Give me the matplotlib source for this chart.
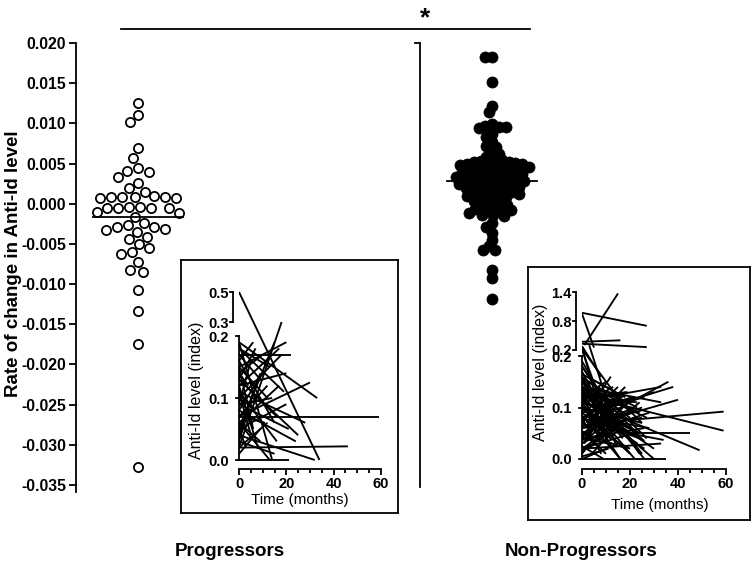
import numpy as np
import matplotlib
matplotlib.use("Agg")
import matplotlib.pyplot as plt
from matplotlib.transforms import blended_transform_factory
from matplotlib.ticker import NullLocator

plt.rcParams['font.family'] = ['Liberation Sans', 'DejaVu Sans']

# ---------------- data ----------------
group_labels = ["Progressors", "Non-Progressors"]

progressors = [0.0125, 0.0111, 0.0102, 0.0069, 0.0057, 0.0044, 0.0041, 0.0040,
               0.0033, 0.0026, 0.0019, 0.0015, 0.0009,
               0.0008, 0.0008, 0.0007, 0.0008, 0.0008, 0.0007,
               -0.0005, -0.0005, -0.0004, -0.0005, -0.0005, -0.0004,
               -0.0010, -0.0011, -0.0016,
               -0.0024, -0.0026, -0.0029, -0.0029, -0.0031, -0.0033,
               -0.0035, -0.0041, -0.0044,
               -0.0050, -0.0055, -0.0060, -0.0063,
               -0.0073, -0.0082, -0.0085,
               -0.0107, -0.0134, -0.0175, -0.0328]

non_progressors = [0.0182, 0.0182, 0.0151, 0.0122, 0.0114, 0.0099, 0.0095, 0.0096,
                   0.0097, 0.0094, 0.0087, 0.0083, 0.0077, 0.0072, 0.0070, 0.0065,
                   0.0062, 0.0058, 0.0055, 0.0054, 0.0053, 0.0052, 0.0052, 0.0051, 0.0050, 0.0050,
                   0.0049, 0.0048, 0.0047, 0.0046, 0.0045, 0.0044, 0.0043, 0.0042, 0.0041, 0.0040,
                   0.0040, 0.0039, 0.0038, 0.0037, 0.0036, 0.0035, 0.0034, 0.0033, 0.0033, 0.0032,
                   0.0031, 0.0030, 0.0029, 0.0028, 0.0028, 0.0027, 0.0026, 0.0025, 0.0024, 0.0024,
                   0.0023, 0.0022, 0.0021, 0.0020, 0.0019, 0.0018, 0.0017, 0.0016, 0.0015, 0.0014,
                   0.0013, 0.0012, 0.0011, 0.0010, 0.0009, 0.0008, 0.0006, 0.0005, 0.0003, 0.0002,
                   0.0000, -0.0001, -0.0003, -0.0005, -0.0006, -0.0008, -0.0008, -0.0009, -0.0011,
                   -0.0014, -0.0014, -0.0015, -0.0024, -0.0029, -0.0036, -0.0045, -0.0053,
                   -0.0057, -0.0057, -0.0082, -0.0092, -0.0118]

prog_median = -0.0016
nonprog_median = 0.0028
main_yticks = [-0.035, -0.030, -0.025, -0.020, -0.015, -0.010, -0.005,
               0.000, 0.005, 0.010, 0.015, 0.020]

# inset 1 (progressors): start time, start level, end time, end level
prog_t0 = [0, 0, 0, 0, 0, 0, 0, 0, 0, 0, 0, 0, 0, 0, 0, 0, 0, 0, 0, 0, 0, 0, 0,
           0, 0, 0, 0, 0, 0, 0, 0, 0, 0, 0, 0, 0, 0, 0, 0, 0, 0, 0, 1, 2, 0,
           0, 0, 0, 0, 0, 0]
prog_y0 = [0.50, 0.02, 0.19, 0.17, 0.07, 0.02, 0.04, 0.07, 0.00, 0.19, 0.12, 0.16,
           0.05, 0.10, 0.13, 0.09, 0.03, 0.08, 0.15, 0.06, 0.11, 0.18, 0.14, 0.02,
           0.09, 0.05, 0.12, 0.16, 0.04, 0.10, 0.07, 0.13, 0.01, 0.08, 0.17, 0.06,
           0.11, 0.03, 0.15, 0.09, 0.05, 0.12, 0.07, 0.10, 0.14,
           0.13, 0.06, 0.18, 0.04, 0.11, 0.15]
prog_t1 = [34, 18, 33, 22, 59, 46, 32, 30, 21, 14, 17, 6, 15, 18, 25, 21, 15, 10,
           12, 9, 7, 19, 4, 12, 5, 20, 8, 15, 6, 3, 12, 16, 9, 24, 9, 13, 28, 4, 6,
           14, 3, 20, 11, 16, 10,
           7, 17, 13, 9, 5, 20]
prog_y1 = [0.00, 0.30, 0.10, 0.17, 0.07, 0.022, 0.00, 0.125, 0.00, 0.00, 0.18, 0.19,
           0.19, 0.17, 0.04, 0.05, 0.01, 0.14, 0.10, 0.03, 0.08, 0.11, 0.12, 0.06,
           0.16, 0.09, 0.02, 0.06, 0.11, 0.09, 0.12, 0.07, 0.05, 0.03, 0.13, 0.00,
           0.06, 0.08, 0.05, 0.10, 0.02, 0.14, 0.06, 0.03, 0.17,
           0.18, 0.12, 0.15, 0.14, 0.04, 0.19]

# inset 2 (non-progressors)
np_t0 = [0, 1, 0, 0, 0, 0, 12, 10, 14, 18, 12, 14, 16, 8, 0, 0, 0, 0, 0, 5,
         0, 0, 0, 0, 0, 0, 0, 0, 0, 0, 0, 0, 0, 0, 0, 0, 0, 0,
         0, 0, 0, 0, 0, 0, 0, 0, 0, 0, 0, 0, 0, 0, 0, 0, 0,
         1, 2, 1, 3, 2, 1, 4, 2, 3, 1, 5, 2, 6, 4, 3, 1, 7, 5, 2, 6, 8, 4, 9, 3,
         0, 0, 0, 0, 0,
         0, 0, 0, 0, 0, 0, 0, 0, 0, 0, 0, 0, 0, 0, 0, 0, 0, 0, 0, 0,
         2, 3, 4, 5, 6, 7, 8, 10, 11, 12, 13, 14, 6, 9, 15, 0, 3, 0, 0, 0]
np_y0 = [0.97, 0.30, 0.37, 0.33, 0.25, 0.21, 0.09, 0.10, 0.08, 0.075, 0.11, 0.085,
         0.05, 0.06, 0.00, 0.12, 0.15, 0.16, 0.02, 0.08,
         0.17, 0.16, 0.15, 0.14, 0.13, 0.12, 0.11, 0.10, 0.09, 0.08, 0.07, 0.06,
         0.05, 0.04, 0.03, 0.02, 0.01, 0.00,
         0.165, 0.155, 0.145, 0.135, 0.125, 0.115, 0.105, 0.095, 0.085, 0.075,
         0.065, 0.055, 0.045, 0.035, 0.025, 0.015, 0.005,
         0.12, 0.09, 0.06, 0.14, 0.04, 0.10, 0.08, 0.13, 0.02, 0.15, 0.11, 0.07,
         0.05, 0.12, 0.09, 0.03, 0.10, 0.06, 0.16, 0.13, 0.07, 0.01, 0.09, 0.11,
         0.115, 0.135, 0.14, 0.18, 0.19,
         0.14, 0.12, 0.10, 0.08, 0.06, 0.04, 0.11, 0.13, 0.09, 0.07, 0.05, 0.03,
         0.15, 0.12, 0.10, 0.08, 0.06, 0.04, 0.02, 0.16,
         0.11, 0.07, 0.09, 0.13, 0.04, 0.12, 0.08, 0.10, 0.06, 0.13, 0.05, 0.10,
         0.09, 0.12, 0.07, 0.95, 0.30, 0.28, 0.22, 0.18]
np_t1 = [27, 15, 16, 27, 10, 14, 36, 38, 40, 59, 59, 49, 45, 34, 35, 30, 26, 25, 33, 28,
         8, 12, 20, 6, 18, 10, 22, 4, 16, 24, 9, 14, 19, 7, 12, 21, 5, 15,
         14, 23, 3, 11, 17, 8, 13, 20, 6, 15, 25, 10, 18, 13, 9, 17, 11,
         19, 12, 22, 9, 15, 7, 20, 24, 14, 11, 17, 8, 19, 13, 26, 10, 21, 16, 18,
         23, 25, 12, 14, 6,
         30, 26, 33, 20, 12,
         19, 23, 25, 18, 21, 26, 16, 14, 9, 20, 13, 17, 7, 5, 12, 8, 6, 11, 19, 21,
         24, 18, 22, 27, 16, 20, 23, 26, 24, 25, 22, 27, 30, 33, 28, 5, 12, 8, 18, 24]
np_y1 = [0.70, 1.37, 0.40, 0.26, 0.05, 0.03, 0.15, 0.14, 0.115, 0.092, 0.055, 0.017,
         0.05, 0.037, 0.00, 0.00, 0.00, 0.01, 0.03, 0.06,
         0.10, 0.02, 0.08, 0.12, 0.05, 0.15, 0.07, 0.13, 0.11, 0.04, 0.12, 0.10,
         0.02, 0.09, 0.06, 0.05, 0.04, 0.03,
         0.13, 0.10, 0.09, 0.08, 0.12, 0.03, 0.14, 0.06, 0.05, 0.14, 0.08, 0.01,
         0.09, 0.11, 0.00, 0.07, 0.02,
         0.13, 0.16, 0.10, 0.04, 0.12, 0.07, 0.01, 0.09, 0.08, 0.06, 0.04, 0.10,
         0.11, 0.09, 0.02, 0.13, 0.12, 0.00, 0.12, 0.05, 0.10, 0.05, 0.03, 0.14,
         0.02, 0.035, 0.11, 0.04, 0.09,
         0.06, 0.11, 0.07, 0.13, 0.09, 0.06, 0.00, 0.07, 0.06, 0.02, 0.08, 0.10,
         0.11, 0.08, 0.04, 0.01, 0.07, 0.03, 0.08, 0.09,
         0.05, 0.14, 0.12, 0.08, 0.06, 0.10, 0.03, 0.12, 0.11, 0.07, 0.00, 0.04,
         0.13, 0.14, 0.09, 0.25, 0.09, 0.16, 0.10, 0.01]

# ---------------- figure ----------------
W, H, DPI = 755, 563, 100
fig = plt.figure(figsize=(W / DPI, H / DPI), dpi=DPI)
fig.patch.set_facecolor('white')


def add_px_axes(l, t, r, b):
    return fig.add_axes([l / W, 1 - b / H, (r - l) / W, (b - t) / H])


# main axes
ax = add_px_axes(76, 43, 750, 492)
Y_LO, Y_HI = -0.03587, 0.020
PX_PER_X = 354.0
X_LO, X_HI = -62 / PX_PER_X, 612 / PX_PER_X
ax.set_xlim(X_LO, X_HI)
ax.set_ylim(Y_LO, Y_HI)
PX_PER_Y = 449.0 / (Y_HI - Y_LO)
ax.patch.set_alpha(0)
for s in ['top', 'right', 'bottom']:
    ax.spines[s].set_visible(False)
ax.spines['left'].set_linewidth(1.3)
ax.set_xticks([])
ax.set_yticks(main_yticks)
ax.set_yticklabels([f"{v:.3f}" for v in main_yticks], fontweight='bold')
ax.tick_params(axis='y', direction='out', length=5, width=1.3, labelsize=11.3, pad=2)


def beeswarm(vals_px, d):
    vals_px = np.asarray(vals_px, float)
    xs = np.zeros(len(vals_px))
    placed = []
    for i in np.argsort(-vals_px, kind='stable'):
        y = vals_px[i]
        near = [(px, py) for px, py in placed if abs(py - y) < d]
        cands = [0.0]
        for px, py in near:
            dx = np.sqrt(d * d - (py - y) ** 2)
            cands += [px + dx, px - dx]
        cands.sort(key=lambda c: (abs(c), c))
        for c in cands:
            if all((c - px) ** 2 + (y - py) ** 2 >= d * d - 1e-6 for px, py in near):
                xs[i] = c
                break
        placed.append((xs[i], y))
    return xs


p_vals = np.array(progressors)
n_vals = np.array(non_progressors)
p_off = beeswarm(p_vals * PX_PER_Y, 11.0) / PX_PER_X
n_off = beeswarm(n_vals * PX_PER_Y, 7.0) / PX_PER_X

ax.plot(0 + p_off, p_vals, 'o', ls='none', ms=6.6, mfc='white', mec='black',
        mew=1.3, clip_on=False, zorder=3)
ax.plot(1 + n_off, n_vals, 'o', ls='none', ms=8.0, mfc='black', mec='black',
        mew=0.5, clip_on=False, zorder=3)

HW = 0.126
ax.plot([-HW, HW], [prog_median, prog_median], color='black', lw=1.3, zorder=4)
ax.plot([1 - HW, 1 + HW], [nonprog_median, nonprog_median], color='black', lw=1.3, zorder=4)

# second (group) axis line
x2 = (420 - 138) / PX_PER_X
ax.plot([x2, x2], [-0.0352, Y_HI], color='black', lw=1.3, clip_on=False)
ax.plot([x2 - 5 / PX_PER_X, x2], [Y_HI, Y_HI], color='black', lw=1.3, clip_on=False)

# significance bar
y_bar = Y_HI + 14 / PX_PER_Y
ax.plot([-17 / PX_PER_X, 392 / PX_PER_X], [y_bar, y_bar], color='black', lw=1.3, clip_on=False)
ax.text(287 / PX_PER_X, Y_HI + 18 / PX_PER_Y, '*', ha='center', va='baseline',
        fontsize=19, fontweight='bold')

fig.text(14 / W, 1 - 264 / H, 'Rate of change in Anti-Id level', rotation=90,
         ha='center', va='center', fontsize=13.5, fontweight='bold')
fig.text(230 / W, 1 - 552 / H, group_labels[0], ha='center', va='center',
         fontsize=13.5, fontweight='bold')
fig.text(581 / W, 1 - 552 / H, group_labels[1], ha='center', va='center',
         fontsize=13.5, fontweight='bold')


# ---------------- insets ----------------
def make_inset(frame, box, zero_off, t0, y0, t1, y1, xp, fp, yticks, ylabels,
               lower_ticks, bracket, ylab_xy, xlab_xy):
    fr = add_px_axes(*frame)
    fr.set_xticks([])
    fr.set_yticks([])
    for s in fr.spines.values():
        s.set_linewidth(1.3)

    xp = np.array(xp, float)
    fp = np.array(fp, float)

    def fwd(v):
        return np.interp(np.asarray(v, float), xp, fp)

    def inv(v):
        return np.interp(np.asarray(v, float), fp, xp)

    l, t, r, b = box
    hpx = b - t
    ia = add_px_axes(l, t, r, b)
    ia.patch.set_alpha(0)
    ia.set_yscale('function', functions=(fwd, inv))
    ia.set_xlim(0, 60)
    ia.set_ylim(float(inv(-zero_off)), float(inv(hpx - zero_off)))
    for s in ['top', 'right', 'left']:
        ia.spines[s].set_visible(False)
    ia.spines['bottom'].set_linewidth(1.3)

    for a0, b0, a1, b1 in zip(t0, y0, t1, y1):
        ia.plot([a0, a1], [b0, b1], color='black', lw=1.35, solid_capstyle='butt')

    ia.set_xticks([0, 20, 40, 60])
    ia.set_xticklabels(['0', '20', '40', '60'], fontweight='bold')
    ia.set_xticks(np.arange(0, 61, 5), minor=True)
    ia.tick_params(axis='x', which='major', length=4.5, width=1.3, labelsize=10.5, pad=1.5)
    ia.tick_params(axis='x', which='minor', length=2.8, width=1.3)

    ia.yaxis.set_minor_locator(NullLocator())
    ia.set_yticks(yticks)
    ia.set_yticklabels(ylabels, fontweight='bold')
    ia.tick_params(axis='y', length=0, labelsize=10.5, pad=7.2)

    wpx = r - l
    tr = blended_transform_factory(ia.transAxes, ia.transData)
    # lower segment
    ia.plot([0, 0], [0, 0.2], transform=tr, color='black', lw=1.3, clip_on=False)
    for v in lower_ticks:
        ia.plot([-3 / wpx, 0], [v, v], transform=tr, color='black', lw=1.3, clip_on=False)
    # upper bracket
    bx = -6 / wpx
    ia.plot([bx, bx], [bracket[0], bracket[-1]], transform=tr, color='black', lw=1.3,
            clip_on=False)
    for v in bracket:
        ia.plot([bx - 3 / wpx, bx], [v, v], transform=tr, color='black', lw=1.3,
                clip_on=False)

    fig.text(ylab_xy[0] / W, 1 - ylab_xy[1] / H, 'Anti-Id level (index)', rotation=90,
             ha='center', va='center', fontsize=11.5)
    fig.text(xlab_xy[0] / W, 1 - xlab_xy[1] / H, 'Time (months)', ha='center',
             va='center', fontsize=11)
    return ia


# inset 1: zero at 460 px, x axis at 469 px
make_inset(frame=(181, 260, 398, 513), box=(239, 288, 381, 469), zero_off=9,
           t0=prog_t0, y0=prog_y0, t1=prog_t1, y1=prog_y1,
           xp=[-1, 0, 0.2, 0.3, 0.5, 10], fp=[-620, 0, 124, 138, 168, 168 + 9.5 * 150],
           yticks=[0, 0.1, 0.2, 0.3, 0.5], ylabels=['0.0', '0.1', '0.2', '0.3', '0.5'],
           lower_ticks=[0, 0.1, 0.2], bracket=[0.3, 0.5],
           ylab_xy=(197, 390), xlab_xy=(300, 500))

# inset 2: zero at 459 px, x axis at 469 px
make_inset(frame=(528, 267, 750, 520), box=(582, 286, 726, 469), zero_off=10,
           t0=np_t0, y0=np_y0, t1=np_t1, y1=np_y1,
           xp=[-1, 0, 0.2, 0.200001, 1.4, 10],
           fp=[-515, 0, 103, 109, 167, 167 + 8.6 * 48.3],
           yticks=[0, 0.1, 0.2, 0.200002, 0.8, 1.4],
           ylabels=['0.0', '0.1', '0.2', '0.2', '0.8', '1.4'],
           lower_ticks=[0, 0.1, 0.2], bracket=[0.200002, 0.8, 1.4],
           ylab_xy=(541, 372), xlab_xy=(660, 505))

fig.savefig('out.png', dpi=DPI)
